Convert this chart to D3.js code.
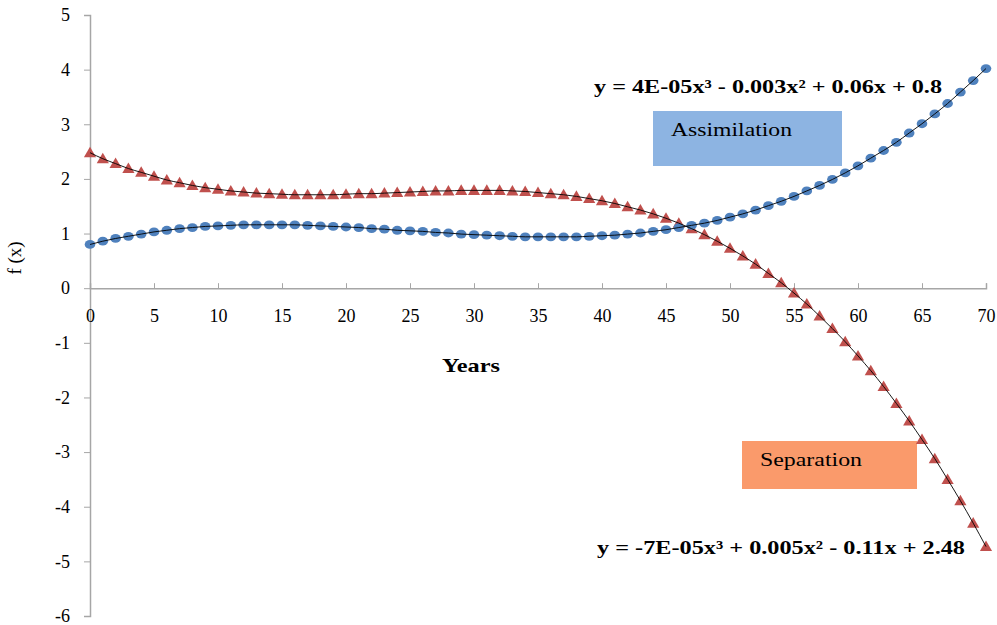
<!DOCTYPE html>
<html><head><meta charset="utf-8">
<script src="https://cdn.jsdelivr.net/npm/d3@7"></script>
<style>body{margin:0;background:#fff}svg{display:block}text{font-family:"Liberation Serif","Times New Roman",serif}</style>
</head><body><svg id="c" width="997" height="625"></svg>
<script>
const years = d3.range(0, 71);
const assimilation = [0.80,0.86,0.91,0.95,0.99,1.03,1.06,1.09,1.11,1.13,1.14,1.15,1.16,1.16,1.16,1.16,1.16,1.15,1.14,1.13,1.12,1.11,1.09,1.08,1.06,1.05,1.04,1.02,1.01,0.99,0.98,0.97,0.96,0.95,0.94,0.94,0.94,0.94,0.94,0.95,0.96,0.97,0.99,1.01,1.04,1.07,1.11,1.15,1.19,1.24,1.30,1.36,1.43,1.51,1.59,1.68,1.78,1.88,1.99,2.11,2.24,2.38,2.52,2.67,2.84,3.01,3.19,3.38,3.59,3.80,4.02];
const separation = [2.48,2.37,2.28,2.19,2.12,2.05,1.98,1.93,1.88,1.84,1.81,1.78,1.76,1.74,1.73,1.72,1.71,1.71,1.71,1.71,1.72,1.73,1.73,1.74,1.75,1.76,1.77,1.78,1.78,1.79,1.79,1.79,1.79,1.78,1.77,1.75,1.73,1.71,1.68,1.64,1.60,1.55,1.49,1.43,1.36,1.28,1.19,1.09,0.98,0.86,0.73,0.59,0.44,0.27,0.10,-0.09,-0.29,-0.51,-0.74,-0.98,-1.24,-1.51,-1.80,-2.11,-2.43,-2.77,-3.12,-3.50,-3.89,-4.30,-4.73];
const xTicks = [0,5,10,15,20,25,30,35,40,45,50,55,60,65,70];
const yTicks = [-6,-5,-4,-3,-2,-1,0,1,2,3,4,5];
const eqAssim = "y = 4E-05x\u00B3 - 0.003x\u00B2 + 0.06x + 0.8";
const eqSep = "y = -7E-05x\u00B3 + 0.005x\u00B2 - 0.11x + 2.48";
const labelAssim = "Assimilation";
const labelSep = "Separation";

const svg = d3.select("#c");
const x = d3.scaleLinear().domain([0,70]).range([90,986]);
const y = d3.scaleLinear().domain([-6,5]).range([616,15]);
const axisCol = "#a6a6a6";
const fmt = d => String(d);

// Y axis
const ya = svg.append("g").attr("transform",`translate(${x(0)},0)`)
  .call(d3.axisLeft(y).tickValues(yTicks).tickSize(6).tickPadding(14).tickFormat(fmt));
ya.select(".domain").attr("stroke",axisCol).attr("stroke-width",1.5);
ya.selectAll(".tick line").attr("stroke",axisCol);
ya.selectAll(".tick text").attr("font-size",18).attr("fill","#000");

// X axis at y=0, ticks upward
const xa = svg.append("g").attr("transform",`translate(0,${y(0)})`)
  .call(d3.axisTop(x).tickValues(xTicks).tickSize(5).tickSizeOuter(5).tickFormat(fmt));
xa.select(".domain").attr("stroke",axisCol).attr("stroke-width",1.5);
xa.selectAll(".tick line").attr("stroke",axisCol);
xa.selectAll(".tick text").attr("font-size",18).attr("fill","#000")
  .attr("y",28).attr("dy","0.32em");
svg.selectAll("g").attr("font-family",null);

// Axis titles
svg.append("text").attr("x",471).attr("y",372).attr("text-anchor","middle")
  .attr("font-weight","bold").attr("font-size",19).attr("textLength",58).attr("lengthAdjust","spacingAndGlyphs").text("Years");
svg.append("text").attr("transform","translate(21,258) rotate(-90)").attr("text-anchor","middle")
  .attr("font-size",18).attr("textLength",33).attr("lengthAdjust","spacingAndGlyphs").text("f (x)");

// Label boxes
svg.append("rect").attr("x",653).attr("y",111).attr("width",189).attr("height",55).attr("fill","#8db4e2");
svg.append("text").attr("x",671).attr("y",136).attr("font-size",19).attr("textLength",121).attr("lengthAdjust","spacingAndGlyphs").text(labelAssim);
svg.append("rect").attr("x",742).attr("y",441).attr("width",175).attr("height",48).attr("fill","#fa9a6b");
svg.append("text").attr("x",760).attr("y",466).attr("font-size",19).attr("textLength",102).attr("lengthAdjust","spacingAndGlyphs").text(labelSep);

// Markers
svg.append("g").selectAll("path").data(separation).join("path")
  .attr("d", d3.symbol(d3.symbolTriangle, 64))
  .attr("transform",(d,i)=>`translate(${x(years[i])},${y(d)+1})`)
  .attr("fill","#c0504d");
svg.append("g").selectAll("ellipse").data(assimilation).join("ellipse")
  .attr("cx",(d,i)=>x(years[i])).attr("cy",d=>y(d)).attr("rx",5.3).attr("ry",4.4)
  .attr("fill","#4f81bd");

// Trendlines
const line = d3.line().x((d,i)=>x(years[i])).y(d=>y(d)).curve(d3.curveMonotoneX);
svg.append("path").datum(separation).attr("d",line).attr("fill","none").attr("stroke","#000").attr("stroke-width",0.9);
svg.append("path").datum(assimilation).attr("d",line).attr("fill","none").attr("stroke","#000").attr("stroke-width",0.9);

// Equations
svg.append("text").attr("x",594).attr("y",93).attr("font-weight","bold").attr("font-size",19)
  .attr("textLength",348).attr("lengthAdjust","spacingAndGlyphs").text(eqAssim);
svg.append("text").attr("x",597).attr("y",554).attr("font-weight","bold").attr("font-size",19)
  .attr("textLength",368).attr("lengthAdjust","spacingAndGlyphs").text(eqSep);
</script></body></html>
